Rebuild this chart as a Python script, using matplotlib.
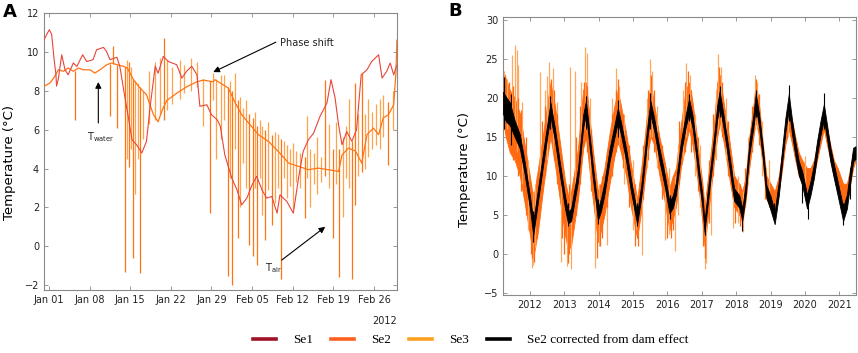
import numpy as np
import matplotlib
matplotlib.use("Agg")
import matplotlib.pyplot as plt
import matplotlib.dates as mdates
from matplotlib.lines import Line2D

# ---------------- Panel A data (days since 2012-01-01) ----------------
se1_day = [-0.86, 0.05, 0.46, 0.86, 1.2, 1.3, 1.6, 2.2, 2.76, 3.3, 4.2, 4.8, 5.8, 6.5, 7.6, 8.2, 9.4, 9.9,
           10.5, 11.7, 12.2, 13.1, 13.7, 14.3, 15.1, 16.0, 16.8, 17.4, 18.3, 18.8, 19.7, 20.6, 22.0, 22.9,
           23.7, 24.6, 25.5, 26.0, 27.2, 28.0, 29.0, 29.5, 30.3, 31.5, 32.4, 33.2, 34.1, 35.0, 35.8, 36.7,
           37.5, 38.4, 39.3, 39.8, 41.0, 42.1, 43.0, 43.8, 44.7, 45.6, 46.7, 47.9, 48.6, 49.3, 49.9, 50.5,
           51.3, 52.2, 53.0, 53.8, 54.8, 55.6, 56.8, 57.4, 58.2, 58.8, 59.4, 59.9]
se1_val = [10.63, 11.14, 10.9, 9.68, 8.82, 8.24, 8.6, 9.85, 9.08, 8.82, 9.43, 9.25, 9.85, 9.5, 9.6, 10.11, 10.23, 10.03,
           9.6, 9.72, 9.26, 7.63, 6.6, 5.48, 5.22, 4.8, 5.4, 7.1, 9.26, 8.9, 9.77, 9.5, 9.34, 8.65,
           9.0, 9.26, 8.82, 7.2, 7.28, 6.77, 6.5, 6.2, 4.7, 3.5, 2.9, 2.13, 2.48, 3.16, 3.6, 2.9,
           2.48, 2.56, 1.7, 2.65, 2.3, 1.7, 3.5, 4.88, 5.48, 5.82, 6.68, 7.37, 8.57, 7.63, 6.25, 5.22,
           5.9, 5.4, 6.0, 8.82, 9.08, 9.5, 9.85, 8.65, 9.0, 9.43, 8.82, 9.3]

water_day = [-0.86, 0.17, 1.0, 1.6, 2.5, 3.3, 4.2, 5.05, 5.9, 7.07, 7.9, 8.8, 9.95, 10.8, 11.7, 12.8, 13.5,
             14.5, 15.5, 16.8, 18.0, 18.8, 19.5, 20.3, 22.0, 23.7, 25.5, 26.6, 28.3, 28.6, 30.9, 32.1, 33.2,
             34.4, 36.1, 37.8, 39.5, 41.3, 43.0, 44.7, 46.4, 48.1, 49.9, 50.5, 51.6, 52.8, 53.9, 54.8, 55.9,
             56.8, 57.6, 58.5, 59.4, 59.8, 59.95]
water_val = [8.23, 8.4, 8.74, 9.08, 9.0, 9.17, 9.0, 9.17, 9.08, 9.08, 8.91, 9.08, 9.34, 9.43, 9.34, 9.26, 9.17,
             8.6, 8.2, 7.8, 6.77, 6.4, 7.0, 7.5, 7.87, 8.2, 8.46, 8.55, 8.46, 8.57, 8.14, 7.37, 6.77,
             6.34, 5.74, 5.4, 4.88, 4.28, 4.11, 3.94, 4.02, 3.94, 3.85, 4.7, 5.05, 4.9, 4.28, 5.74, 6.08,
             5.74, 6.6, 6.77, 7.28, 9.0, 10.6]

# Se2 excursions (day, low, high)
se2_sp_day = [4.4, 10.5, 11.0, 11.7, 13.1, 13.8, 14.5, 15.7, 19.9, 27.8, 30.8, 31.6, 32.5, 34.4, 35.1, 35.8,
              37.2, 38.4, 40.0, 44.1, 47.6, 49.0, 50.0, 52.2, 52.7, 53.9, 58.5]
se2_sp_lo = [6.5, 6.68, 9.4, 6.08, -1.3, 4.1, -0.6, -1.4, 6.5, 1.7, -1.55, -2.0, 0.4, 0.08, -0.5, -0.95,
             0.33, 1.1, -1.7, 1.45, 3.6, 0.4, -1.6, -1.7, 2.1, 3.8, 4.2]
se2_sp_hi = [9.0, 9.4, 10.28, 9.3, 9.2, 9.5, 8.6, 8.2, 10.7, 8.5, 8.2, 8.0, 7.5, 6.8, 6.6, 6.2,
             6.0, 5.7, 5.5, 4.6, 8.57, 5.0, 5.0, 5.4, 8.4, 8.9, 7.4]
# Se3 excursions (day, low, high)
se3_sp_day = [13.4, 14.2, 14.9, 15.3, 16.2, 17.3, 18.3, 19.2, 20.3, 21.2, 22.5, 23.3, 24.4, 25.5, 26.5,
              28.3, 28.8, 29.6, 30.2, 31.2, 32.0, 33.0, 33.5, 34.0, 35.5, 36.3, 36.7, 37.8, 38.9, 39.4,
              40.5, 41.0, 41.5, 42.0, 42.6, 43.2, 44.5, 45.0, 45.6, 46.2, 46.8, 48.2, 49.5, 50.6, 51.2,
              51.7, 53.3, 54.4, 55.0, 55.6, 56.3, 57.0, 57.6, 59.2]
se3_sp_lo = [4.5, 5.0, 2.7, 4.5, 5.5, 6.3, 6.5, 6.8, 7.0, 7.3, 7.6, 7.9, 8.0, 8.2, 6.2,
             7.5, 4.5, 5.5, 6.5, 3.5, 5.0, 2.0, 4.3, 3.0, 3.0, 3.5, 1.6, 2.9, 2.2, 3.0,
             3.5, 2.5, 3.1, 1.9, 3.3, 3.0, 3.5, 2.0, 3.2, 2.7, 3.3, 3.0, 3.2, 1.5, 3.5,
             3.0, 3.6, 4.0, 4.6, 5.0, 5.2, 5.0, 5.6, 6.0]
se3_sp_hi = [9.6, 9.2, 8.5, 8.4, 8.0, 9.0, 9.5, 9.7, 9.6, 9.2, 9.6, 9.3, 9.7, 9.5, 8.6,
             8.9, 8.6, 8.8, 8.8, 8.5, 8.9, 7.7, 7.1, 7.5, 6.9, 6.5, 6.2, 6.4, 5.9, 5.8,
             5.4, 5.2, 5.0, 5.3, 4.9, 4.8, 6.7, 5.0, 4.8, 5.6, 4.6, 6.3, 6.4, 5.6, 6.2,
             7.6, 6.8, 6.8, 7.6, 6.9, 7.3, 7.6, 7.8, 8.0]

date_ticks = ["2012-01-01", "2012-01-08", "2012-01-15", "2012-01-22", "2012-01-29",
              "2012-02-05", "2012-02-12", "2012-02-19", "2012-02-26"]
a_yticks = [-2, 0, 2, 4, 6, 8, 10, 12]

# ---------------- Panel B data (decimal years) ----------------
b_t = [2011.22, 2011.30, 2011.42, 2011.56, 2011.71, 2011.85, 2012.00, 2012.10, 2012.24, 2012.39,
       2012.53, 2012.60, 2012.73, 2012.87, 2013.02, 2013.11, 2013.20, 2013.40, 2013.55, 2013.63,
       2013.69, 2013.83, 2013.98, 2014.07, 2014.17, 2014.32, 2014.46, 2014.56, 2014.65, 2014.80,
       2014.94, 2015.12, 2015.24, 2015.33, 2015.43, 2015.51, 2015.62, 2015.77, 2015.91, 2016.06,
       2016.16, 2016.25, 2016.39, 2016.53, 2016.63, 2016.73, 2016.83, 2016.92, 2017.02, 2017.08,
       2017.16, 2017.26, 2017.36, 2017.45, 2017.52, 2017.65, 2017.79, 2017.94, 2018.09, 2018.18,
       2018.28, 2018.38, 2018.50, 2018.57, 2018.67, 2018.78, 2018.88, 2019.00, 2019.12, 2019.24,
       2019.34, 2019.43, 2019.53, 2019.63, 2019.72, 2019.82, 2019.92, 2020.06, 2020.16, 2020.26,
       2020.35, 2020.45, 2020.55, 2020.64, 2020.74, 2020.84, 2020.95, 2021.11, 2021.22, 2021.32,
       2021.40, 2021.47]
blk_lo = [18.0, 17.0, 16.5, 15.0, 13.5, 10.2, 5.9, 2.4, 6.8, 11.5,
          15.7, 17.6, 14.5, 10.2, 5.9, 3.9, 4.2, 9.3, 16.2, 17.8,
          15.7, 9.8, 4.3, 5.5, 7.6, 11.9, 14.9, 16.9, 15.3, 11.9,
          8.0, 3.8, 7.2, 11.0, 15.3, 17.8, 15.7, 11.9, 8.9, 5.2,
          5.9, 7.6, 12.7, 16.2, 18.1, 16.2, 12.7, 9.3, 5.9, 2.8,
          5.9, 9.8, 13.6, 17.3, 19.0, 15.7, 11.5, 6.8, 5.9, 4.3,
          7.6, 12.7, 16.2, 18.8, 16.2, 11.9, 7.2, 5.6, 3.8, 7.5,
          11.8, 15.6, 18.5, 15.2, 12.6, 10.1, 8.8, 5.8, 7.5, 9.7,
          12.6, 15.2, 17.2, 14.8, 11.8, 9.7, 7.5, 4.2, 5.8, 9.2,
          11.8, 12.2]
blk_hi = [20.8, 20.2, 19.4, 17.1, 15.3, 11.8, 7.5, 4.2, 8.4, 13.1,
          17.3, 19.4, 16.1, 11.8, 7.5, 5.4, 5.8, 10.9, 17.8, 19.6,
          17.3, 11.4, 5.8, 7.1, 9.2, 13.5, 16.5, 18.7, 16.9, 13.5,
          9.6, 5.2, 8.8, 12.6, 16.9, 19.6, 17.3, 13.5, 10.5, 6.7,
          7.5, 9.2, 14.3, 17.8, 19.9, 17.8, 14.3, 10.9, 7.5, 4.2,
          7.5, 11.4, 15.2, 19.1, 20.9, 17.3, 13.1, 8.4, 7.5, 5.8,
          9.2, 14.3, 17.8, 20.6, 17.8, 13.5, 8.8, 7.4, 5.4, 9.3,
          13.6, 17.4, 20.5, 17.0, 14.4, 11.9, 10.6, 7.6, 9.3, 11.5,
          14.4, 17.0, 19.2, 16.6, 13.6, 11.5, 9.3, 6.0, 7.6, 11.0,
          13.6, 13.8]
org_lo = [17.0, 15.0, 13.0, 12.0, 10.0, 6.5, 2.5, -0.5, 3.0, 8.5,
          13.0, 15.0, 11.5, 7.0, 2.5, 0.5, 1.0, 7.0, 13.5, 15.0,
          12.5, 7.0, 1.5, 3.0, 5.0, 9.0, 12.5, 14.5, 13.0, 10.0,
          6.0, 2.0, 5.5, 9.0, 13.0, 15.0, 14.0, 10.0, 7.0, 3.0,
          4.5, 6.0, 11.0, 14.0, 16.0, 14.0, 11.0, 8.0, 4.0, 1.0,
          4.0, 8.0, 12.0, 15.0, 17.0, 14.0, 10.0, 6.0, 5.0, 4.0,
          7.0, 11.0, 15.0, 17.0, 15.0, 11.0, 7.0, 6.0, 5.0, 8.0,
          11.0, 14.0, 16.0, 14.0, 12.0, 10.0, 9.0, 8.0, 8.0, 10.0,
          12.0, 14.0, 16.0, 14.0, 12.0, 10.0, 8.0, 6.0, 7.0, 9.0,
          11.0, 12.0]
org_hi = [23.5, 22.5, 21.0, 20.0, 18.0, 14.0, 10.0, 7.0, 11.0, 15.5,
          20.0, 22.0, 19.0, 14.5, 9.5, 7.5, 8.0, 13.5, 21.0, 22.0,
          19.5, 13.5, 8.0, 9.0, 11.0, 15.5, 19.0, 21.0, 19.0, 15.5,
          11.5, 7.0, 11.0, 14.5, 19.0, 22.0, 19.0, 15.0, 12.0, 8.5,
          10.0, 11.0, 16.5, 21.0, 22.0, 19.5, 16.0, 12.5, 9.0, 6.0,
          9.0, 13.0, 17.0, 22.0, 23.0, 19.0, 15.0, 10.0, 9.0, 8.0,
          10.0, 15.0, 19.0, 22.0, 19.0, 14.0, 10.0, 9.0, 8.0, 10.0,
          13.0, 16.0, 18.0, 17.0, 15.0, 13.0, 12.0, 11.0, 11.0, 12.0,
          14.0, 16.0, 18.0, 16.0, 14.0, 12.0, 11.0, 9.0, 9.0, 11.0,
          13.0, 13.5]

# Se3 excursions in panel B (t, low, high)
b3_t = [2011.25, 2011.35, 2011.47, 2011.56, 2011.62, 2011.66, 2011.78, 2011.95, 2012.05, 2012.08,
        2012.15, 2012.29, 2012.43, 2012.50, 2012.56, 2012.68, 2012.80, 2012.92, 2013.07, 2013.16,
        2013.21, 2013.30, 2013.50, 2013.60, 2013.65, 2013.75, 2013.89, 2014.00, 2014.23, 2014.40,
        2014.52, 2014.60, 2014.75, 2015.00, 2015.10, 2015.25, 2015.40, 2015.49, 2015.55, 2015.70,
        2015.92, 2016.05, 2016.21, 2016.30, 2016.45, 2016.55, 2016.65, 2016.80, 2016.95, 2017.09,
        2017.12, 2017.28, 2017.40, 2017.47, 2017.55, 2017.70, 2017.91, 2018.05, 2018.20, 2018.35,
        2018.54, 2018.60, 2018.75, 2018.95, 2019.50, 2020.00]
b3_lo = [18, 16, 17.8, 15.6, 13, 13.5, 9, 3, -1.8, -1.4,
         0.7, 9.3, 10, 12, 17.8, 13.5, 10, -1.0, -1.6, 4,
         -2.0, 8, 13, 16, 15, 10, -1.8, 1.0, 1.1, 10,
         14, 14, 9, 3, 3, -0.1, 11, 15, 15, 11,
         1.8, 2.5, 0.3, 5, 12, 15, 16, 10, 6, -2.0,
         -1.2, 2.4, 12, 16, 16, 12, 3.3, 4, 2.8, 9,
         16, 16, 10, 6, 15, 8]
b3_hi = [23.5, 22.5, 25.5, 26.8, 26.2, 24.2, 19.5, 12, 6, 8,
         9, 23.3, 21, 22.8, 24.6, 23.8, 19.5, 9, 6, 24.0,
         5, 23.5, 22, 26.5, 25.8, 20, 7, 9, 11, 20,
         23.8, 21.5, 18, 12, 7.5, 9, 20, 25.0, 23.5, 19,
         11, 11, 10, 14, 21, 24.5, 23, 18, 14, 6,
         7.5, 12, 21, 25.6, 24, 20, 11, 10, 8, 15,
         22.9, 22, 17, 12, 18, 12.5]
# Se2 excursions in panel B
b2_t = [2011.28, 2011.40, 2011.50, 2011.65, 2011.75, 2011.90, 2012.02, 2012.06, 2012.12, 2012.20,
        2012.35, 2012.45, 2012.62, 2012.70, 2012.78, 2012.95, 2013.00, 2013.10, 2013.15, 2013.35,
        2013.45, 2013.58, 2013.67, 2013.78, 2013.95, 2014.03, 2014.10, 2014.25, 2014.38, 2014.50,
        2014.56, 2014.70, 2014.88, 2015.05, 2015.15, 2015.30, 2015.45, 2015.52, 2015.60, 2015.85,
        2016.00, 2016.10, 2016.15, 2016.35, 2016.50, 2016.60, 2016.70, 2016.88, 2017.05, 2017.10,
        2017.20, 2017.33, 2017.50, 2017.58, 2017.75, 2017.98, 2018.10, 2018.25, 2018.45, 2018.57,
        2018.65, 2018.85]
b2_lo = [16, 14, 12, 10, 8, 5, 0, -0.5, -1, 2,
         8, 10, 15, 12, 9, 2, 0, -1.2, 0, 5,
         9, 14, 13, 8, -0.5, 1, 2, 6, 10, 13,
         14, 11, 6, 1, 1, 7, 12, 15, 13, 7,
         2, 2, 3, 9, 13, 16, 13, 8, 1, -0.5,
         4, 10, 16, 15, 10, 4, 3.5, 6, 13, 17,
         14, 7]
b2_hi = [23, 22, 21.5, 20, 18.5, 15, 9, 8, 5, 10,
         17, 19, 22.5, 21, 18, 11, 10, 7, 9, 15,
         19, 22, 21.5, 16, 8, 9, 10, 13, 18, 21,
         22.5, 18, 14, 9, 7, 14, 21, 23, 21, 14,
         10, 9, 10, 17, 22, 23.5, 21, 15, 8, 6,
         12, 18, 24, 22, 17, 10, 9, 11, 19, 22.5,
         20.5, 11]
# Corrected series excursions
bk_t = [2011.25, 2011.45, 2012.10, 2012.60, 2013.12, 2013.62, 2013.98, 2014.55, 2015.12, 2015.50,
        2016.07, 2016.62, 2017.08, 2017.52, 2018.18, 2018.58, 2019.10, 2019.53, 2019.90, 2020.08,
        2020.55, 2021.10, 2021.30]
bk_lo = [16, 14, 1.5, 16, 3.5, 16, 3.8, 15, 3.5, 16, 4.5, 17, 2.4, 17.5, 2.9, 17.5, 4.3, 17, 6.5, 4.4,
         16, 3.7, 7]
bk_hi = [22.7, 20.5, 5.5, 20.3, 6.5, 20.2, 7, 19.8, 6.5, 20.6, 7.5, 20.5, 5, 21.5, 6, 21.0, 6.5, 21.7,
         10, 7.5, 20.7, 6.5, 11]
b_years = [2012, 2013, 2014, 2015, 2016, 2017, 2018, 2019, 2020, 2021]
b_yticks = [-5, 0, 5, 10, 15, 20, 25, 30]

legend_labels = ["Se1", "Se2", "Se3", "Se2 corrected from dam effect"]
legend_colors = ["#a01228", "#ff6020", "#ffa020", "#000000"]

# ---------------- Figure ----------------
fig = plt.figure(figsize=(8.58, 3.53), dpi=100)
W, H = 858, 353

def box(l, t, r, b):
    return [l / W, 1 - b / H, (r - l) / W, (b - t) / H]

axA = fig.add_axes(box(44, 13, 397, 290))
axB = fig.add_axes(box(503, 17, 855.5, 295))

spine_c = "#8a8a8a"
for ax in (axA, axB):
    for s in ax.spines.values():
        s.set_color(spine_c)
        s.set_linewidth(0.8)
    ax.tick_params(direction="in", length=3, width=0.6, color=spine_c, labelsize=7,
                   labelcolor="#222222", top=True, right=True)

# Panel A
base = mdates.date2num(np.datetime64("2012-01-01"))
xa = lambda d: base + np.asarray(d, dtype=float)
c_se1 = "#e8453a"
c_se2 = "#ff7412"
c_se3 = "#ffa24a"
axA.vlines(xa(se3_sp_day), se3_sp_lo, se3_sp_hi, color=c_se3, lw=0.9, zorder=2)
axA.vlines(xa(se2_sp_day), se2_sp_lo, se2_sp_hi, color=c_se2, lw=0.9, zorder=3)
axA.plot(xa(water_day), water_val, color=c_se2, lw=0.9, zorder=3)
axA.plot(xa(se1_day), se1_val, color=c_se1, lw=0.8, zorder=4)
axA.set_xlim(xa(-0.86), xa(59.97))
axA.set_ylim(-2.25, 12)
axA.set_yticks(a_yticks)
axA.set_xticks([mdates.date2num(np.datetime64(d)) for d in date_ticks])
axA.xaxis.set_major_formatter(mdates.DateFormatter("%b %d"))
axA.set_ylabel("Temperature (°C)", fontsize=9.5)
axA.yaxis.set_label_coords(-0.078, 0.46)
axA.text(1.0, -0.095, "2012", transform=axA.transAxes, ha="right", va="top", fontsize=7,
         color="#222222")

arr = dict(arrowstyle="-|>", color="black", lw=0.8, mutation_scale=9, shrinkA=0, shrinkB=0)
axA.annotate("", xy=(xa(28.3), 8.96), xytext=(xa(39.1), 10.5), arrowprops=arr)
axA.text(xa(39.8), 10.46, "Phase shift", fontsize=7, va="center", ha="left", color="#222222")
axA.annotate("", xy=(xa(8.5), 8.45), xytext=(xa(8.5), 6.34), arrowprops=arr)
axA.text(xa(6.6), 5.95, r"T$_{\mathrm{water}}$", fontsize=7, va="top", ha="left", color="#222222")
axA.annotate("", xy=(xa(47.6), 1.0), xytext=(xa(40.1), -0.71), arrowprops=arr)
axA.text(xa(37.3), -0.75, r"T$_{\mathrm{air}}$", fontsize=7, va="top", ha="left", color="#222222")

# Panel B
axB.fill_between(b_t, org_lo, org_hi, color="#ff6a10", lw=0.6, zorder=2)
axB.vlines(b3_t, b3_lo, b3_hi, color="#ffa860", lw=0.9, zorder=2.5)
axB.vlines(b2_t, b2_lo, b2_hi, color="#ff6a10", lw=0.9, zorder=2.6)
axB.fill_between(b_t, blk_lo, blk_hi, color="black", lw=0.6, zorder=3)
axB.vlines(bk_t, bk_lo, bk_hi, color="black", lw=0.8, zorder=3.1)
axB.set_xlim(2011.22, 2021.47)
axB.set_ylim(-5.3, 30.4)
axB.set_xticks(b_years)
axB.set_xticklabels([str(y) for y in b_years])
axB.set_yticks(b_yticks)
axB.set_ylabel("Temperature (°C)", fontsize=9.5)
axB.yaxis.set_label_coords(-0.092, 0.45)

fig.text(3 / W, 1 - 12 / H, "A", fontsize=13, fontweight="bold", va="center", ha="left")
fig.text(448 / W, 1 - 11 / H, "B", fontsize=13, fontweight="bold", va="center", ha="left")

handles = [Line2D([], [], color=c, lw=2.6) for c in legend_colors]
fig.legend(handles, legend_labels, loc="center", bbox_to_anchor=(471 / W, 1 - 340 / H), ncol=4,
           frameon=False, prop={"family": "Liberation Serif", "size": 9.5},
           handlelength=1.75, handletextpad=1.3, columnspacing=1.35, borderpad=0)

fig.savefig("out.png", dpi=100)
